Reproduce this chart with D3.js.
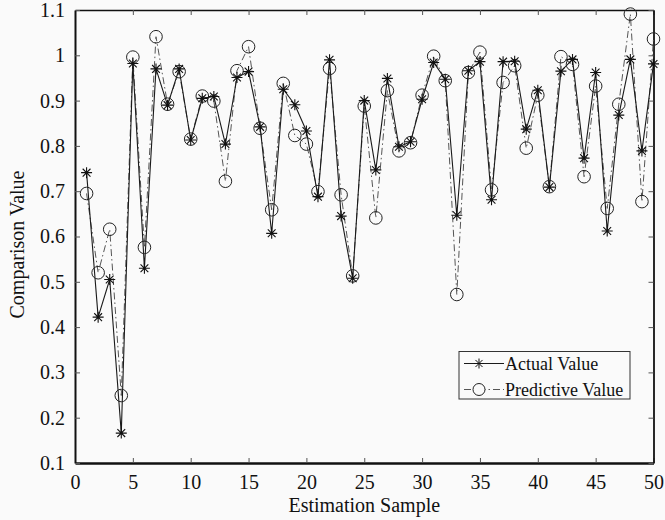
<!DOCTYPE html>
<html>
<head>
<meta charset="utf-8">
<script src="https://cdn.jsdelivr.net/npm/d3@7"></script>
<style>
  html, body { margin: 0; padding: 0; background: #fafafa; }
  svg { display: block; }
  text { font-family: "Liberation Serif", "DejaVu Serif", serif; fill: #111; }
</style>
</head>
<body>
<svg id="chart" width="665" height="520"></svg>
<script>
// ---- data ----
const samples = d3.range(1, 51);
const actualValues = [
  0.741, 0.422, 0.505, 0.166, 0.982, 0.530, 0.970, 0.890, 0.970, 0.813,
  0.905, 0.909, 0.804, 0.951, 0.964, 0.842, 0.607, 0.925, 0.891, 0.833,
  0.688, 0.990, 0.645, 0.508, 0.900, 0.747, 0.949, 0.798, 0.809, 0.903,
  0.984, 0.947, 0.647, 0.966, 0.986, 0.681, 0.986, 0.987, 0.837, 0.923,
  0.709, 0.965, 0.991, 0.773, 0.962, 0.612, 0.868, 0.991, 0.789, 0.981
];
const predictiveValues = [
  0.695, 0.520, 0.616, 0.249, 0.996, 0.576, 1.041, 0.892, 0.964, 0.815,
  0.910, 0.899, 0.722, 0.966, 1.019, 0.839, 0.659, 0.938, 0.823, 0.804,
  0.699, 0.971, 0.692, 0.513, 0.888, 0.641, 0.922, 0.789, 0.807, 0.912,
  0.998, 0.944, 0.472, 0.962, 1.007, 0.703, 0.940, 0.977, 0.795, 0.912,
  0.710, 0.997, 0.980, 0.732, 0.932, 0.662, 0.892, 1.091, 0.677, 1.036
];
const xTicks = [0, 5, 10, 15, 20, 25, 30, 35, 40, 45, 50];
const yTicks = [0.1, 0.2, 0.3, 0.4, 0.5, 0.6, 0.7, 0.8, 0.9, 1.0, 1.1];
const yTickLabels = ["0.1", "0.2", "0.3", "0.4", "0.5", "0.6", "0.7", "0.8", "0.9", "1", "1.1"];
const seriesNames = ["Actual Value", "Predictive Value"];

// ---- layout ----
const svg = d3.select("#chart");
const L = 75, R = 653.5, T = 10, B = 463;
const x = d3.scaleLinear().domain([0, 50]).range([L, R]);
const y = d3.scaleLinear().domain([0.1, 1.1]).range([B, T]);

svg.append("rect").attr("width", 665).attr("height", 520).attr("fill", "#fafafa");

// axes (MATLAB-like box with inward ticks)
const tickLen = 5;
const bottomAxis = d3.axisBottom(x).tickValues(xTicks).tickSizeInner(-tickLen).tickSizeOuter(0).tickPadding(12);
const topAxis = d3.axisTop(x).tickValues(xTicks).tickSizeInner(-tickLen).tickSizeOuter(0).tickFormat("");
const leftAxis = d3.axisLeft(y).tickValues(yTicks).tickSizeInner(-tickLen).tickSizeOuter(0).tickPadding(10)
  .tickFormat((d, i) => yTickLabels[i]);
const rightAxis = d3.axisRight(y).tickValues(yTicks).tickSizeInner(-tickLen).tickSizeOuter(0).tickFormat("");

function styleAxis(g, w) {
  g.select(".domain").attr("stroke", "#111").attr("stroke-width", w);
  g.selectAll(".tick line").attr("stroke", "#555").attr("stroke-width", 1);
  g.selectAll(".tick text").attr("font-family", "Liberation Serif, serif").attr("font-size", 20).attr("fill", "#111");
}
svg.append("g").attr("transform", `translate(0,${B})`).call(bottomAxis).call(g => styleAxis(g, 2.5));
svg.append("g").attr("transform", `translate(0,${T})`).call(topAxis).call(g => styleAxis(g, 1.5));
svg.append("g").attr("transform", `translate(${L},0)`).call(leftAxis).call(g => styleAxis(g, 2));
svg.append("g").attr("transform", `translate(${R},0)`).call(rightAxis).call(g => styleAxis(g, 1.8));

// ---- series ----
const line = d3.line().x((d, i) => x(samples[i])).y(d => y(d));

svg.append("path").datum(predictiveValues)
  .attr("d", line).attr("fill", "none")
  .attr("stroke", "#555").attr("stroke-width", 1)
  .attr("stroke-dasharray", "7,3,1.5,3");

svg.append("path").datum(actualValues)
  .attr("d", line).attr("fill", "none")
  .attr("stroke", "#1a1a1a").attr("stroke-width", 1.1);

function starPath(cx, cy, r) {
  const d = r * 0.7071;
  return `M${cx - r},${cy}L${cx + r},${cy}M${cx},${cy - r}L${cx},${cy + r}` +
         `M${cx - d},${cy - d}L${cx + d},${cy + d}M${cx - d},${cy + d}L${cx + d},${cy - d}`;
}

svg.append("g").selectAll("circle").data(predictiveValues).join("circle")
  .attr("cx", (d, i) => x(samples[i])).attr("cy", d => y(d)).attr("r", 6.3)
  .attr("fill", "none").attr("stroke", "#222").attr("stroke-width", 1);

svg.append("g").selectAll("path").data(actualValues).join("path")
  .attr("d", (d, i) => starPath(x(samples[i]), y(d), 5.5))
  .attr("fill", "none").attr("stroke", "#111").attr("stroke-width", 1.1);

// ---- axis titles ----
svg.append("text").attr("x", (L + R) / 2 + 0).attr("y", 512).attr("text-anchor", "middle")
  .attr("font-size", 20).text("Estimation Sample");
svg.append("text").attr("transform", `translate(24,${(T + B) / 2 + 8}) rotate(-90)`)
  .attr("text-anchor", "middle").attr("font-size", 20).text("Comparison Value");

// ---- legend ----
const lg = svg.append("g");
lg.append("rect").attr("x", 459).attr("y", 351.5).attr("width", 171).attr("height", 47.5)
  .attr("fill", "#fafafa").attr("stroke", "#333").attr("stroke-width", 1);
const rows = [363.5, 389.5];
lg.append("line").attr("x1", 464).attr("x2", 504).attr("y1", rows[0]).attr("y2", rows[0])
  .attr("stroke", "#1a1a1a").attr("stroke-width", 1.1);
lg.append("path").attr("d", starPath(479, rows[0], 5)).attr("stroke", "#111").attr("fill", "none");
lg.append("line").attr("x1", 464).attr("x2", 504).attr("y1", rows[1]).attr("y2", rows[1])
  .attr("stroke", "#555").attr("stroke-width", 1).attr("stroke-dasharray", "7,3,1.5,3");
lg.append("circle").attr("cx", 479).attr("cy", rows[1]).attr("r", 6)
  .attr("fill", "#fafafa").attr("stroke", "#222");
lg.selectAll("text.lbl").data(seriesNames).join("text").attr("class", "lbl")
  .attr("x", 505).attr("y", (d, i) => rows[i] + 6).attr("font-size", 18).text(d => d);
</script>
</body>
</html>
